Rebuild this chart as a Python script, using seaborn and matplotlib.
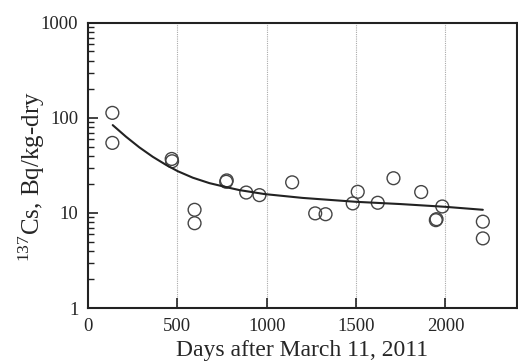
import numpy as np
import pandas as pd
import seaborn as sns
import matplotlib.pyplot as plt
from matplotlib.ticker import LogLocator, NullFormatter, FixedLocator

# measured points
days = [136, 136, 468, 470, 596, 596, 773, 776, 885, 959, 1142, 1271, 1329,
        1481, 1509, 1621, 1709, 1864, 1946, 1950, 1982, 2209, 2209]
cs137 = [113, 54.6, 37, 35, 10.8, 7.8, 21.3, 22.0, 16.4, 15.4, 21, 9.9, 9.7,
         12.6, 16.7, 12.8, 23.2, 16.6, 8.4, 8.6, 11.7, 8.1, 5.4]

# fitted curve
fit_days = [138, 212, 287, 362, 437, 502, 586, 679, 773, 847, 988, 1200,
            1500, 1750, 2000, 2209]
fit_vals = [84, 63.5, 49, 39, 32, 27.5, 23.5, 20.6, 18.7, 17.4, 15.8, 14.4,
            13.1, 12.4, 11.6, 10.8]

sns.set_style("ticks")
plt.rcParams['font.family'] = ['Liberation Serif', 'DejaVu Serif']
plt.rcParams['mathtext.fontset'] = 'custom'
plt.rcParams['mathtext.rm'] = 'Liberation Serif'

pts = pd.DataFrame({"days": days, "cs": cs137})
fit = pd.DataFrame({"days": fit_days, "cs": fit_vals})

fig = plt.figure(figsize=(5.18, 3.63), dpi=100)
ax = fig.add_axes([0.170, 0.1515, 0.828, 0.7855])

sns.lineplot(data=fit, x="days", y="cs", ax=ax, color="#222222", lw=1.5)
sns.scatterplot(data=pts, x="days", y="cs", ax=ax, marker="o", s=85,
                facecolor="none", edgecolor="#444444", linewidth=1.0)

ax.set_yscale("log")
ax.set_xlim(0, 2400)
ax.set_ylim(1, 1000)

ax.xaxis.set_major_locator(FixedLocator([0, 500, 1000, 1500, 2000]))
ax.yaxis.set_minor_locator(LogLocator(base=10, subs=np.arange(2, 10)))
ax.yaxis.set_minor_formatter(NullFormatter())
ax.set_yticks([1, 10, 100, 1000])
ax.set_yticklabels(["1", "10", "100", "1000"])

ax.tick_params(axis="both", which="major", direction="in", length=7,
               width=1.2, labelsize=13.5, pad=7, color="#222222")
ax.tick_params(axis="y", which="minor", direction="in", length=4,
               width=1.0, color="#222222")

for x in [500, 1000, 1500, 2000]:
    ax.axvline(x, color="#aaaaaa", lw=0.8, ls=(0, (1, 1)), zorder=0)

for sp in ax.spines.values():
    sp.set_linewidth(1.5)
    sp.set_color("#222222")

ax.set_xlabel("Days after March 11, 2011", fontsize=17, labelpad=4)
ax.set_ylabel(r"$^{137}$Cs, Bq/kg-dry", fontsize=18)
ax.yaxis.set_label_coords(-0.096, 0.462)

fig.savefig("out.png", dpi=100)
